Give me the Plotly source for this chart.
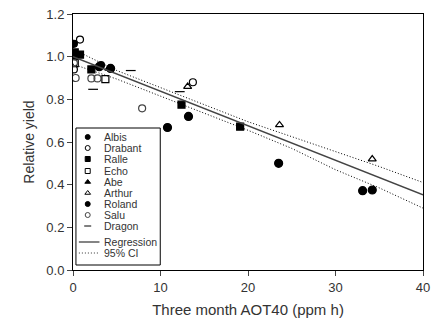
import plotly.graph_objects as go

# cultivar data (AOT40 in ppm h, relative yield)
albis_x = [0.1, 3.2]
albis_y = [1.06, 0.96]
drabant_x = [0.8, 0.1, 13.7]
drabant_y = [1.08, 0.94, 0.88]
ralle_x = [0.2, 0.8, 2.1, 12.4, 19.1]
ralle_y = [1.02, 1.01, 0.94, 0.775, 0.672]
echo_x = [3.7, 0.2]
echo_y = [0.895, 0.97]
abe_x = [0.1, 4.1]
abe_y = [1.0, 0.945]
arthur_x = [13.1, 23.6, 34.2]
arthur_y = [0.86, 0.68, 0.52]
roland_x = [10.8, 13.2, 23.5, 33.1, 34.2, 4.3, 3.0]
roland_y = [0.668, 0.72, 0.50, 0.372, 0.375, 0.945, 0.953]
salu_x = [0.1, 0.3, 2.1, 2.8, 7.9]
salu_y = [0.97, 0.90, 0.898, 0.898, 0.758]
dragon_x = [2.3, 6.6, 12.2]
dragon_y = [0.847, 0.935, 0.836]

reg_x = [0, 40]
reg_y = [1.0, 0.352]
ci_x = [0, 5, 10, 15, 20, 25, 30, 35, 40]
ci_upper = [1.035, 0.935, 0.855, 0.775, 0.695, 0.625, 0.555, 0.485, 0.41]
ci_lower = [0.965, 0.895, 0.815, 0.735, 0.655, 0.57, 0.47, 0.385, 0.29]

series = [
    ("Albis", albis_x, albis_y, "circle", "black", 7),
    ("Drabant", drabant_x, drabant_y, "circle-open", "black", 7),
    ("Ralle", ralle_x, ralle_y, "square", "black", 7),
    ("Echo", echo_x, echo_y, "square-open", "black", 7),
    ("Abe", abe_x, abe_y, "triangle-up", "black", 7),
    ("Arthur", arthur_x, arthur_y, "triangle-up-open", "black", 7),
    ("Roland", roland_x, roland_y, "circle", "black", 8),
    ("Salu", salu_x, salu_y, "circle-open", "#444", 7),
    ("Dragon", dragon_x, dragon_y, "line-ew-open", "black", 7),
]

fig = go.Figure()
for name, xs, ys, sym, col, sz in series:
    fig.add_trace(go.Scatter(x=xs, y=ys, mode="markers", name=name, showlegend=False,
                             marker=dict(symbol=sym, color=col, size=sz,
                                         line=dict(color=col, width=1.2))))

fig.add_trace(go.Scatter(x=reg_x, y=reg_y, mode="lines", showlegend=False,
                         line=dict(color="#444", width=1.5)))
fig.add_trace(go.Scatter(x=ci_x, y=ci_upper, mode="lines", showlegend=False,
                         line=dict(color="black", width=1, dash="1px,2px")))
fig.add_trace(go.Scatter(x=ci_x, y=ci_lower, mode="lines", showlegend=False,
                         line=dict(color="black", width=1, dash="1px,2px")))

# hand-built compact legend on an overlay axis measured in pixels
L, R, T, B = 73, 430, 14, 270
row_y = [137, 148, 159, 171, 182, 193, 204, 215, 226]
for (name, xs, ys, sym, col, sz), yy in zip(series, row_y):
    fig.add_trace(go.Scatter(x=[88], y=[yy], xaxis="x2", yaxis="y2", mode="markers",
                             showlegend=False, hoverinfo="skip",
                             marker=dict(symbol=sym, color=col, size=5,
                                         line=dict(color=col, width=1))))
    fig.add_annotation(x=103, y=yy, xref="x2", yref="y2", text=name, showarrow=False,
                       xanchor="left", font=dict(size=10.5, color="#333"))
fig.add_trace(go.Scatter(x=[79, 100], y=[242, 242], xaxis="x2", yaxis="y2", mode="lines",
                         showlegend=False, hoverinfo="skip", line=dict(color="#333", width=1.2)))
fig.add_trace(go.Scatter(x=[79, 100], y=[253, 253], xaxis="x2", yaxis="y2", mode="lines",
                         showlegend=False, hoverinfo="skip",
                         line=dict(color="#333", width=1, dash="1px,2px")))
fig.add_annotation(x=103, y=242, xref="x2", yref="y2", text="Regression", showarrow=False,
                   xanchor="left", font=dict(size=10.5, color="#333"))
fig.add_annotation(x=103, y=253, xref="x2", yref="y2", text="95% CI", showarrow=False,
                   xanchor="left", font=dict(size=10.5, color="#333"))
fig.add_shape(type="rect", xref="x2", yref="y2", x0=76, x1=162, y0=128, y1=265,
              line=dict(color="black", width=1), fillcolor="white", layer="below")

fig.update_layout(
    width=435, height=327,
    margin=dict(l=L, r=435 - R, t=T, b=327 - B),
    paper_bgcolor="white", plot_bgcolor="white",
    font=dict(family="Liberation Sans, Arial", size=13, color="#333"),
    showlegend=False,
    xaxis=dict(range=[0, 40], tickvals=[0, 10, 20, 30, 40], ticks="outside",
               ticklen=5, showline=True, linecolor="black", mirror=True,
               showgrid=False, zeroline=False, ticklabeloverflow="allow",
               title=dict(text="Three month AOT40 (ppm h)", font=dict(size=15), standoff=10)),
    yaxis=dict(range=[0, 1.2], tickvals=[0, 0.2, 0.4, 0.6, 0.8, 1.0, 1.2],
               tickformat=".1f", ticks="outside", ticklen=5, showline=True,
               linecolor="black", mirror=True, showgrid=False, zeroline=False,
               title=dict(text="Relative yield", font=dict(size=14), standoff=8)),
    xaxis2=dict(overlaying="x", range=[L, R], visible=False, fixedrange=True),
    yaxis2=dict(overlaying="y", range=[B, T], visible=False, fixedrange=True),
)

fig.write_html("out.html", config={"displayModeBar": False},
               post_script="document.body.style.margin='0';")
